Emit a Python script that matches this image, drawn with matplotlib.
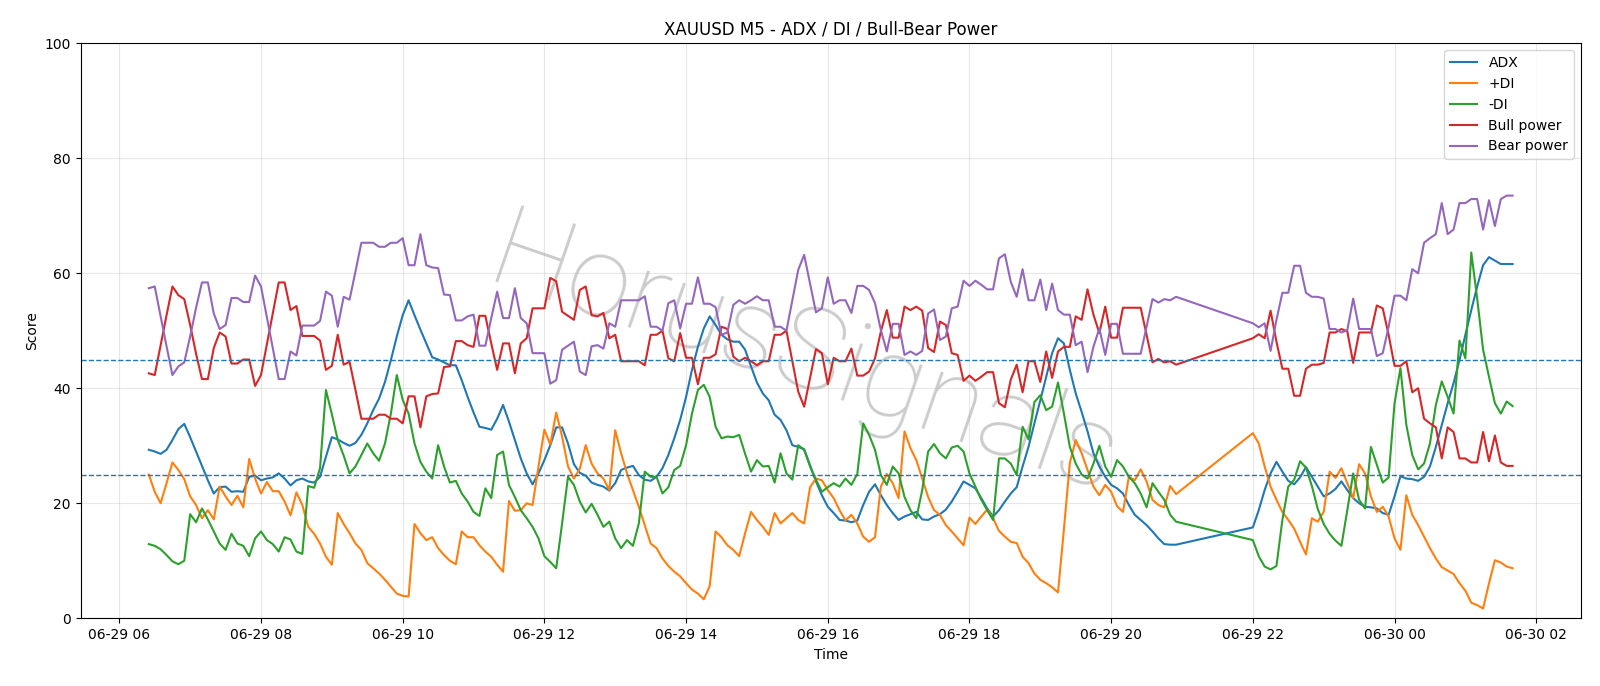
import pandas as pd
import matplotlib
matplotlib.use("Agg")
import matplotlib.pyplot as plt
import matplotlib.dates as mdates

# --- 5-minute bars, 06-29 06:25 -> 06-30 01:40, no bars during the 21:00-22:00 break ---
start = "2024-06-29 06:25"
end = "2024-06-30 01:40"
break_start = "2024-06-29 21:00"
break_end = "2024-06-29 22:00"

adx = [
    29.3, 29.0, 28.6, 29.3, 31.0, 32.9, 33.8, 31.5, 29.0, 26.5,
    24.0, 21.7, 22.8, 22.9, 22.0, 22.1, 22.0, 24.6, 24.8, 24.0,
    24.3, 24.5, 25.2, 24.3, 23.1, 24.0, 24.3, 23.8, 23.6, 24.6,
    28.1, 31.5, 31.1, 30.5, 30.0, 30.5, 31.9, 33.9, 36.2, 38.2,
    41.1, 44.9, 49.0, 52.7, 55.3, 52.7, 50.2, 47.8, 45.4, 45.0,
    44.5, 44.0, 44.0, 41.4, 38.5, 35.8, 33.3, 33.1, 32.8, 34.7,
    37.1, 34.2, 31.0, 27.8, 25.2, 23.3, 25.2, 27.5, 30.1, 33.2,
    33.2, 30.4, 26.8, 25.3, 24.8, 23.6, 23.2, 22.9, 22.2, 23.5,
    25.8, 26.2, 26.5, 24.9, 24.1, 23.9, 24.6, 26.1, 28.4, 31.3,
    34.5, 38.5, 43.2, 47.2, 50.4, 52.5, 51.0, 49.3, 48.5, 48.1,
    48.1, 46.7, 43.8, 41.0, 39.1, 37.9, 35.4, 34.5, 32.7, 30.1,
    29.8, 29.4, 26.6, 23.8, 21.4, 19.4, 18.3, 17.1, 17.0, 16.7,
    17.0, 19.7, 22.0, 23.3, 21.4, 19.7, 18.3, 17.1, 17.7, 18.1,
    18.5, 17.2, 17.1, 17.7, 18.1, 18.9, 20.3, 22.0, 23.8, 23.2,
    22.6, 20.9, 19.1, 17.7, 18.8, 20.3, 21.7, 22.8, 26.4, 29.8,
    33.9, 37.9, 42.0, 46.1, 48.7, 47.8, 43.2, 39.1, 35.9, 32.5,
    28.7, 26.4, 24.6, 23.2, 22.6, 21.7, 19.7, 18.0, 17.1, 16.2,
    15.1, 13.9, 12.9, 12.8, 12.8,
    15.8, 18.8, 22.3, 25.2, 27.2, 25.5, 23.9, 23.3, 24.5, 26.3,
    24.6, 22.9, 21.2, 21.7, 22.5, 23.8, 22.3, 20.9, 20.0, 19.4,
    19.3, 19.1, 18.3, 18.0, 21.2, 24.7, 24.3, 24.2, 23.9, 24.6,
    26.4, 29.8, 33.6, 37.4, 40.9, 44.9, 49.3, 53.6, 57.7, 61.4,
    62.8, 62.2, 61.6, 61.6, 61.6,
]

plus_di = [
    25.0, 22.0, 20.0, 23.5, 27.1, 25.8, 24.2, 21.2, 19.7, 17.4,
    18.8, 17.2, 22.9, 21.2, 19.7, 21.3, 19.3, 27.7, 24.3, 21.7,
    23.7, 22.1, 22.1, 20.3, 17.9, 21.9, 19.7, 15.9, 14.7, 13.0,
    10.7, 9.3, 18.3, 16.4, 14.8, 13.0, 11.9, 9.6, 8.7, 7.8,
    6.7, 5.5, 4.3, 3.9, 3.8, 16.4, 14.8, 13.6, 14.1, 12.2,
    11.0, 10.0, 9.4, 15.1, 14.1, 14.1, 12.7, 11.6, 10.7, 9.3,
    8.1, 20.4, 18.7, 18.8, 20.0, 19.7, 26.4, 32.8, 30.2, 35.8,
    31.6, 26.4, 24.3, 26.0, 30.1, 26.9, 25.2, 24.3, 22.3, 32.7,
    28.7, 25.2, 22.3, 19.4, 16.2, 13.0, 12.2, 10.4, 9.1, 8.1,
    7.3, 6.1, 5.0, 4.3, 3.3, 5.6, 15.1, 14.1, 12.7, 11.9,
    10.8, 14.8, 18.5, 17.1, 15.9, 14.5, 18.3, 16.5, 17.4, 18.3,
    17.1, 16.5, 22.8, 24.3, 24.0, 22.3, 20.9, 18.8, 17.0, 18.0,
    16.5, 14.2, 13.3, 14.1, 22.9, 25.1, 23.5, 20.9, 32.5, 29.6,
    27.5, 24.3, 21.1, 18.8, 18.0, 16.2, 15.1, 13.9, 12.7, 17.5,
    16.4, 17.7, 18.9, 17.4, 15.2, 14.2, 13.3, 13.1, 10.7, 9.6,
    7.8, 6.7, 6.1, 5.4, 4.5, 15.5, 27.0, 31.0, 28.7, 25.8,
    22.9, 21.4, 23.2, 22.0, 19.5, 18.5, 24.6, 24.0, 25.9, 23.8,
    20.6, 19.7, 19.3, 23.0, 21.6,
    32.2, 30.4, 26.4, 22.9, 20.6, 18.5, 17.1, 15.6, 13.3, 11.1,
    17.4, 16.8, 18.5, 25.5, 24.4, 26.1, 23.5, 20.9, 26.8, 25.2,
    21.2, 18.5, 19.4, 17.7, 13.9, 11.9, 21.4, 18.0, 16.2, 14.2,
    12.2, 10.4, 8.9, 8.3, 7.7, 6.1, 4.8, 2.7, 2.3, 1.7,
    6.1, 10.1, 9.7, 9.0, 8.7,
]

minus_di = [
    12.9, 12.6, 12.0, 11.0, 9.9, 9.4, 10.0, 18.1, 16.7, 19.1,
    17.2, 15.1, 13.0, 11.9, 14.7, 13.0, 12.6, 10.8, 13.9, 15.1,
    13.6, 12.9, 11.6, 14.1, 13.7, 11.6, 11.2, 23.0, 22.7, 26.1,
    39.7, 35.5, 31.0, 28.3, 25.2, 26.4, 28.4, 30.4, 28.7, 27.4,
    30.4, 35.6, 42.3, 38.0, 35.6, 30.4, 27.2, 25.5, 24.3, 30.1,
    26.4, 23.6, 23.9, 21.7, 20.3, 18.5, 17.8, 22.6, 20.9, 28.4,
    29.0, 23.2, 21.1, 18.8, 17.4, 15.9, 13.9, 10.8, 9.8, 8.7,
    16.5, 24.6, 23.2, 20.3, 18.4, 19.9, 18.0, 15.9, 16.8, 13.9,
    12.2, 13.6, 12.6, 16.5, 25.5, 24.6, 24.6, 21.7, 22.8, 25.8,
    26.5, 30.1, 35.6, 39.7, 40.6, 38.5, 33.3, 31.3, 31.6, 31.5,
    31.9, 28.6, 25.5, 27.5, 26.4, 26.5, 23.6, 28.7, 25.2, 24.1,
    30.1, 29.3, 26.4, 24.1, 22.0, 22.8, 23.5, 22.9, 24.3, 23.2,
    25.1, 33.9, 31.9, 29.3, 24.9, 23.2, 26.4, 25.2, 21.1, 18.8,
    17.4, 22.3, 29.0, 30.3, 28.7, 27.8, 29.7, 30.0, 29.0, 25.2,
    22.9, 20.6, 18.8, 17.1, 27.8, 27.8, 26.9, 24.9, 33.3, 31.1,
    37.6, 38.8, 36.2, 36.8, 41.0, 35.6, 29.8, 26.9, 25.0, 24.3,
    26.9, 30.0, 26.4, 24.6, 27.5, 26.4, 24.6, 23.5, 21.7, 19.3,
    23.5, 22.0, 20.6, 18.0, 16.8,
    13.6, 10.8, 9.0, 8.5, 9.1, 17.1, 22.9, 24.1, 27.3, 26.2,
    23.0, 19.0, 16.4, 14.7, 13.5, 12.6, 18.8, 25.2, 20.6, 19.1,
    29.8, 26.7, 23.6, 24.5, 37.4, 43.5, 33.6, 28.4, 25.9, 26.9,
    30.4, 37.1, 41.2, 38.5, 35.6, 48.3, 45.2, 63.6, 55.6, 46.7,
    42.0, 37.4, 35.6, 37.7, 36.9,
]

bull_power = [
    42.6, 42.3, 47.5, 52.7, 57.7, 56.2, 55.5, 51.0, 46.0, 41.6,
    41.6, 47.0, 49.7, 49.0, 44.3, 44.3, 45.0, 45.0, 40.4, 42.3,
    47.7, 53.0, 58.4, 58.4, 53.6, 54.3, 49.1, 49.1, 49.1, 48.3,
    43.2, 43.9, 49.3, 44.1, 44.6, 39.7, 34.7, 34.7, 34.7, 35.4,
    35.4, 34.7, 34.7, 33.9, 38.6, 38.6, 33.2, 38.6, 39.0, 39.1,
    43.7, 43.8, 48.2, 48.2, 47.5, 47.2, 52.6, 52.6, 47.8, 43.2,
    47.8, 47.8, 42.6, 47.8, 48.7, 53.9, 53.9, 53.9, 59.2, 58.6,
    53.3, 52.6, 51.9, 57.1, 57.7, 52.7, 52.5, 53.1, 48.7, 49.3,
    44.7, 44.7, 44.7, 44.7, 44.0, 49.3, 49.3, 50.0, 45.2, 44.7,
    49.6, 45.3, 45.3, 40.7, 45.3, 45.3, 45.9, 50.7, 50.3, 45.5,
    44.7, 45.3, 44.7, 44.0, 44.7, 44.7, 49.3, 49.3, 50.0, 44.7,
    39.4, 36.8, 41.8, 46.8, 46.1, 40.7, 45.3, 44.7, 44.7, 46.9,
    42.2, 42.2, 42.9, 45.2, 49.9, 53.6, 48.8, 48.8, 54.2, 53.6,
    54.2, 53.5, 47.0, 46.3, 51.6, 51.0, 46.1, 45.8, 41.3, 42.2,
    41.3, 42.0, 42.8, 42.8, 37.4, 36.7, 41.5, 44.1, 39.3, 44.7,
    44.7, 41.1, 46.4, 41.8, 46.4, 47.2, 47.2, 52.5, 51.9, 57.2,
    52.8, 49.6, 54.2, 48.8, 48.8, 54.0, 54.0, 54.0, 54.0, 49.3,
    44.5, 45.1, 44.5, 44.7, 44.1,
    48.7, 49.4, 48.7, 53.5, 48.1, 43.4, 43.4, 38.7, 38.7, 43.4,
    44.1, 44.1, 44.4, 49.7, 49.7, 50.3, 49.9, 44.4, 49.7, 49.7,
    49.7, 54.4, 53.9, 49.3, 43.9, 43.9, 44.7, 39.3, 40.0, 34.7,
    33.9, 33.2, 27.8, 33.2, 32.4, 27.8, 27.8, 27.1, 27.1, 32.4,
    27.3, 31.8, 27.1, 26.5, 26.5,
]

bear_power = [
    57.4, 57.7, 52.5, 47.3, 42.3, 43.8, 44.5, 49.0, 54.0, 58.4,
    58.4, 53.0, 50.3, 51.0, 55.7, 55.7, 55.0, 55.0, 59.6, 57.7,
    52.3, 47.0, 41.6, 41.6, 46.4, 45.7, 50.9, 50.9, 50.9, 51.7,
    56.8, 56.1, 50.7, 55.9, 55.4, 60.3, 65.3, 65.3, 65.3, 64.6,
    64.6, 65.3, 65.3, 66.1, 61.4, 61.4, 66.8, 61.4, 61.0, 60.9,
    56.3, 56.2, 51.8, 51.8, 52.5, 52.8, 47.4, 47.4, 52.2, 56.8,
    52.2, 52.2, 57.4, 52.2, 51.3, 46.1, 46.1, 46.1, 40.8, 41.4,
    46.7, 47.4, 48.1, 42.9, 42.3, 47.3, 47.5, 46.9, 51.3, 50.7,
    55.3, 55.3, 55.3, 55.3, 56.0, 50.7, 50.7, 50.0, 54.8, 55.3,
    50.4, 54.7, 54.7, 59.3, 54.7, 54.7, 54.1, 49.3, 49.7, 54.5,
    55.3, 54.7, 55.3, 56.0, 55.3, 55.3, 50.7, 50.7, 50.0, 55.3,
    60.6, 63.2, 58.2, 53.2, 53.9, 59.3, 54.7, 55.3, 55.3, 53.1,
    57.8, 57.8, 57.1, 54.8, 50.1, 46.4, 51.2, 51.2, 45.8, 46.4,
    45.8, 46.5, 53.0, 53.7, 48.4, 49.0, 53.9, 54.2, 58.7, 57.8,
    58.7, 58.0, 57.2, 57.2, 62.6, 63.3, 58.5, 55.9, 60.7, 55.3,
    55.3, 58.9, 53.6, 58.2, 53.6, 52.8, 52.8, 47.5, 48.1, 42.8,
    47.2, 50.4, 45.8, 51.2, 51.2, 46.0, 46.0, 46.0, 46.0, 50.7,
    55.5, 54.9, 55.5, 55.3, 55.9,
    51.3, 50.6, 51.3, 46.5, 51.9, 56.6, 56.6, 61.3, 61.3, 56.6,
    55.9, 55.9, 55.6, 50.3, 50.3, 49.7, 50.1, 55.6, 50.3, 50.3,
    50.3, 45.6, 46.1, 50.7, 56.1, 56.1, 55.3, 60.7, 60.0, 65.3,
    66.1, 66.8, 72.2, 66.8, 67.6, 72.2, 72.2, 72.9, 72.9, 67.6,
    72.7, 68.2, 72.9, 73.5, 73.5,
]

# --- time axis ---
times = pd.date_range(start, end, freq="5min")
times = times[(times < break_start) | (times >= break_end)]

# --- plot ---
fig = plt.figure(figsize=(16, 6.86), dpi=100)
ax = fig.add_subplot(111)
fig.subplots_adjust(left=0.0504, right=0.988, bottom=0.0987, top=0.937)

ax.plot(times, adx, label="ADX")
ax.plot(times, plus_di, label="+DI")
ax.plot(times, minus_di, label="-DI")
ax.plot(times, bull_power, label="Bull power")
ax.plot(times, bear_power, label="Bear power")

ax.axhline(25, color="C0", linestyle="--", linewidth=1)
ax.axhline(45, color="C0", linestyle="--", linewidth=1)

# watermark
ax.text(0.482, 0.45, "HorusSignals", transform=ax.transAxes,
        fontsize=82, family="Roboto", fontweight=100, color="gray",
        alpha=0.4, rotation=-19, ha="center", va="center", zorder=0)

ax.set_ylim(0, 100)
ax.xaxis.set_major_locator(mdates.HourLocator(byhour=range(0, 24, 2)))
ax.xaxis.set_major_formatter(mdates.DateFormatter("%m-%d %H"))
ax.set_title("XAUUSD M5 - ADX / DI / Bull-Bear Power")
ax.set_xlabel("Time")
ax.set_ylabel("Score")
ax.grid(True, alpha=0.3)
ax.legend(loc="upper right")

plt.savefig("out.png", dpi=100)
